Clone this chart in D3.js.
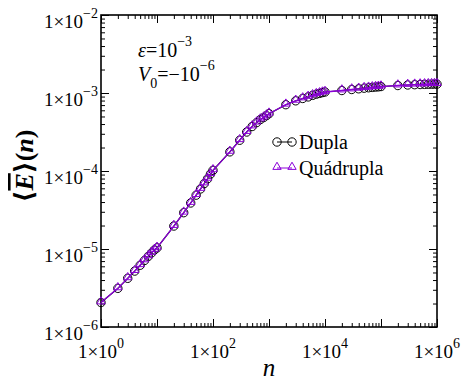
<!DOCTYPE html>
<html>
<head>
<meta charset="utf-8">
<script src="https://cdn.jsdelivr.net/npm/d3@7"></script>
<style>
  body { margin: 0; background: #fff; }
  text { font-family: 'Liberation Serif', 'DejaVu Serif', serif; }
</style>
</head>
<body>
<svg id="chart" width="463" height="385"></svg>
<script>
// n values (1..9 x 10^k) and <E>(n)
const nVals = [
  1, 2, 3, 4, 5, 6, 7, 8, 9,
  10, 20, 30, 40, 50, 60, 70, 80, 90,
  100, 200, 300, 400, 500, 600, 700, 800, 900,
  1000, 2000, 3000, 4000, 5000, 6000, 7000, 8000, 9000,
  1e4, 2e4, 3e4, 4e4, 5e4, 6e4, 7e4, 8e4, 9e4,
  1e5, 2e5, 3e5, 4e5, 5e5, 6e5, 7e5, 8e5, 9e5,
  1e6
]
const dupla = [
  2.06e-6, 3.13e-6, 4.21e-6, 5.21e-6, 6.19e-6, 7.14e-6, 8.05e-6, 8.91e-6, 9.73e-6,
  1.035e-5, 1.97e-5, 2.92e-5, 3.89e-5, 4.90e-5, 5.89e-5, 6.92e-5, 7.94e-5, 9.12e-5,
  1.02e-4, 1.76e-4, 2.48e-4, 3.16e-4, 3.72e-4, 4.17e-4, 4.57e-4, 4.84e-4, 5.13e-4,
  5.43e-4, 7.08e-4, 7.94e-4, 8.51e-4, 8.91e-4, 9.33e-4, 9.66e-4, 9.89e-4, 1.012e-3,
  1.03e-3, 1.076e-3, 1.109e-3, 1.132e-3, 1.153e-3, 1.167e-3, 1.18e-3, 1.191e-3, 1.2e-3,
  1.21e-3, 1.247e-3, 1.267e-3, 1.278e-3, 1.285e-3, 1.29e-3, 1.294e-3, 1.297e-3, 1.3e-3,
  1.3e-3
]
const quadrupla = [
  2.06e-6, 3.13e-6, 4.21e-6, 5.21e-6, 6.19e-6, 7.14e-6, 8.05e-6, 8.91e-6, 9.73e-6,
  1.035e-5, 1.97e-5, 2.92e-5, 3.89e-5, 4.90e-5, 5.89e-5, 6.92e-5, 7.94e-5, 9.12e-5,
  1.02e-4, 1.76e-4, 2.48e-4, 3.16e-4, 3.72e-4, 4.17e-4, 4.57e-4, 4.84e-4, 5.13e-4,
  5.43e-4, 7.08e-4, 7.94e-4, 8.51e-4, 8.91e-4, 9.33e-4, 9.66e-4, 9.89e-4, 1.012e-3,
  1.03e-3, 1.076e-3, 1.109e-3, 1.132e-3, 1.153e-3, 1.167e-3, 1.18e-3, 1.191e-3, 1.2e-3,
  1.21e-3, 1.247e-3, 1.267e-3, 1.278e-3, 1.285e-3, 1.29e-3, 1.294e-3, 1.297e-3, 1.3e-3,
  1.3e-3
]
const xExp = [0, 2, 4, 6]            // labelled x decades
const xDecades = [0, 1, 2, 3, 4, 5, 6]
const yExp = [-6, -5, -4, -3, -2]
const seriesNames = ['Dupla', 'Quádrupla']

const purple = '#8b00d8'
const serif = "'Liberation Serif', 'DejaVu Serif', serif"
const svg = d3.select('#chart').attr('font-family', serif)
const L = 101, R = 437, T = 15, B = 327

const x = d3.scaleLog().domain([1, 1e6]).range([L, R])
const y = d3.scaleLog().domain([1e-6, 1e-2]).range([B, T])

// minor tick values
const minorX = []
xDecades.slice(0, -1).forEach(k => { for (let m = 2; m < 10; m++) minorX.push(m * Math.pow(10, k)) })
const minorY = []
yExp.slice(0, -1).forEach(k => { for (let m = 2; m < 10; m++) minorY.push(m * Math.pow(10, k)) })
const majorX = xDecades.map(k => Math.pow(10, k))
const majorY = yExp.map(k => Math.pow(10, k))

function tickAxis(axisFn, scale, vals, size, tr) {
  const g = svg.append('g').attr('transform', tr)
    .call(axisFn(scale).tickValues(vals).tickSize(size).tickSizeOuter(0).tickFormat(''))
  g.select('.domain').remove()
  g.selectAll('line').attr('stroke', '#000').attr('stroke-width', 1)
}
// inward ticks on all four sides
tickAxis(d3.axisBottom, x, majorX, -8, `translate(0,${B})`)
tickAxis(d3.axisBottom, x, minorX, -4, `translate(0,${B})`)
tickAxis(d3.axisTop, x, majorX, -8, `translate(0,${T})`)
tickAxis(d3.axisTop, x, minorX, -4, `translate(0,${T})`)
tickAxis(d3.axisLeft, y, majorY, -8, `translate(${L},0)`)
tickAxis(d3.axisLeft, y, minorY, -4, `translate(${L},0)`)
tickAxis(d3.axisRight, y, majorY, -8, `translate(${R},0)`)
tickAxis(d3.axisRight, y, minorY, -4, `translate(${R},0)`)

svg.append('rect').attr('x', L).attr('y', T).attr('width', R - L).attr('height', B - T)
  .attr('fill', 'none').attr('stroke', '#000').attr('stroke-width', 1.6)

// tick labels 1x10^k
function powLabel(g, k) {
  g.append('tspan').text('1×10')
  g.append('tspan').attr('dy', -10).attr('font-size', 14).text(String(k).replace('-', '−'))
}
xExp.forEach(k => {
  const t = svg.append('text').attr('x', x(Math.pow(10, k))).attr('y', B + 31)
    .attr('text-anchor', 'middle').attr('font-size', 19)
  powLabel(t, k)
})
yExp.forEach(k => {
  const t = svg.append('text').attr('x', L - 3).attr('y', y(Math.pow(10, k)) + 13)
    .attr('text-anchor', 'end').attr('font-size', 19)
  powLabel(t, k)
})

// axis titles
svg.append('text').attr('x', (L + R) / 2).attr('y', 376).attr('text-anchor', 'middle')
  .attr('font-size', 25).attr('font-style', 'italic').text('n')
const yl = svg.append('text').attr('transform', `translate(33,${(T + B) / 2 - 5}) rotate(-90)`)
  .attr('text-anchor', 'middle').attr('font-size', 26).attr('font-weight', 'bold')
yl.append('tspan').text('⟨')
yl.append('tspan').attr('font-style', 'italic').style('text-decoration', 'overline').text('E')
yl.append('tspan').text('⟩(')
yl.append('tspan').attr('font-style', 'italic').text('n')
yl.append('tspan').text(')')

// annotations
const a1 = svg.append('text').attr('x', 138).attr('y', 57).attr('font-size', 20)
a1.append('tspan').attr('font-style', 'italic').text('ε')
a1.append('tspan').text('=10')
a1.append('tspan').attr('dy', -11).attr('font-size', 14).text('−3')
const a2 = svg.append('text').attr('x', 138).attr('y', 81).attr('font-size', 20)
a2.append('tspan').attr('font-style', 'italic').text('V')
a2.append('tspan').attr('dy', 7).attr('font-size', 14).text('0')
a2.append('tspan').attr('dy', -7).text('=−10')
a2.append('tspan').attr('dy', -11).attr('font-size', 14).text('−6')

// series
const line = d3.line().x(d => x(d[0])).y(d => y(d[1]))
const dData = nVals.map((n, i) => [n, dupla[i]])
const qData = nVals.map((n, i) => [n, quadrupla[i]])
const tri = d3.symbol().type(d3.symbolTriangle).size(30)

svg.append('path').datum(dData).attr('d', line).attr('fill', 'none').attr('stroke', '#000').attr('stroke-width', 1.2)
svg.selectAll('.circ').data(dData).enter().append('circle').attr('class', 'circ')
  .attr('cx', d => x(d[0])).attr('cy', d => y(d[1])).attr('r', 4.2)
  .attr('fill', 'none').attr('stroke', '#000').attr('stroke-width', 1)

svg.append('path').datum(qData).attr('d', line).attr('fill', 'none').attr('stroke', purple).attr('stroke-width', 1.3)
svg.selectAll('.tri').data(qData).enter().append('path').attr('class', 'tri')
  .attr('d', tri).attr('transform', d => `translate(${x(d[0])},${y(d[1]) - 1})`)
  .attr('fill', 'none').attr('stroke', purple).attr('stroke-width', 1)

// legend
const lg = svg.append('g')
const ly = [142, 168]
lg.append('line').attr('x1', 277).attr('x2', 292).attr('y1', ly[0]).attr('y2', ly[0]).attr('stroke', '#000')
;[277, 292].forEach(cx => lg.append('circle').attr('cx', cx).attr('cy', ly[0]).attr('r', 4.2)
  .attr('fill', 'none').attr('stroke', '#000'))
lg.append('line').attr('x1', 277).attr('x2', 292).attr('y1', ly[1]).attr('y2', ly[1]).attr('stroke', purple)
;[277, 292].forEach(cx => lg.append('path').attr('d', tri).attr('transform', `translate(${cx},${ly[1] - 1})`)
  .attr('fill', 'none').attr('stroke', purple))
seriesNames.forEach((s, i) => {
  lg.append('text').attr('x', 299).attr('y', ly[i] + 7).attr('font-size', 20).text(s)
})
</script>
</body>
</html>
